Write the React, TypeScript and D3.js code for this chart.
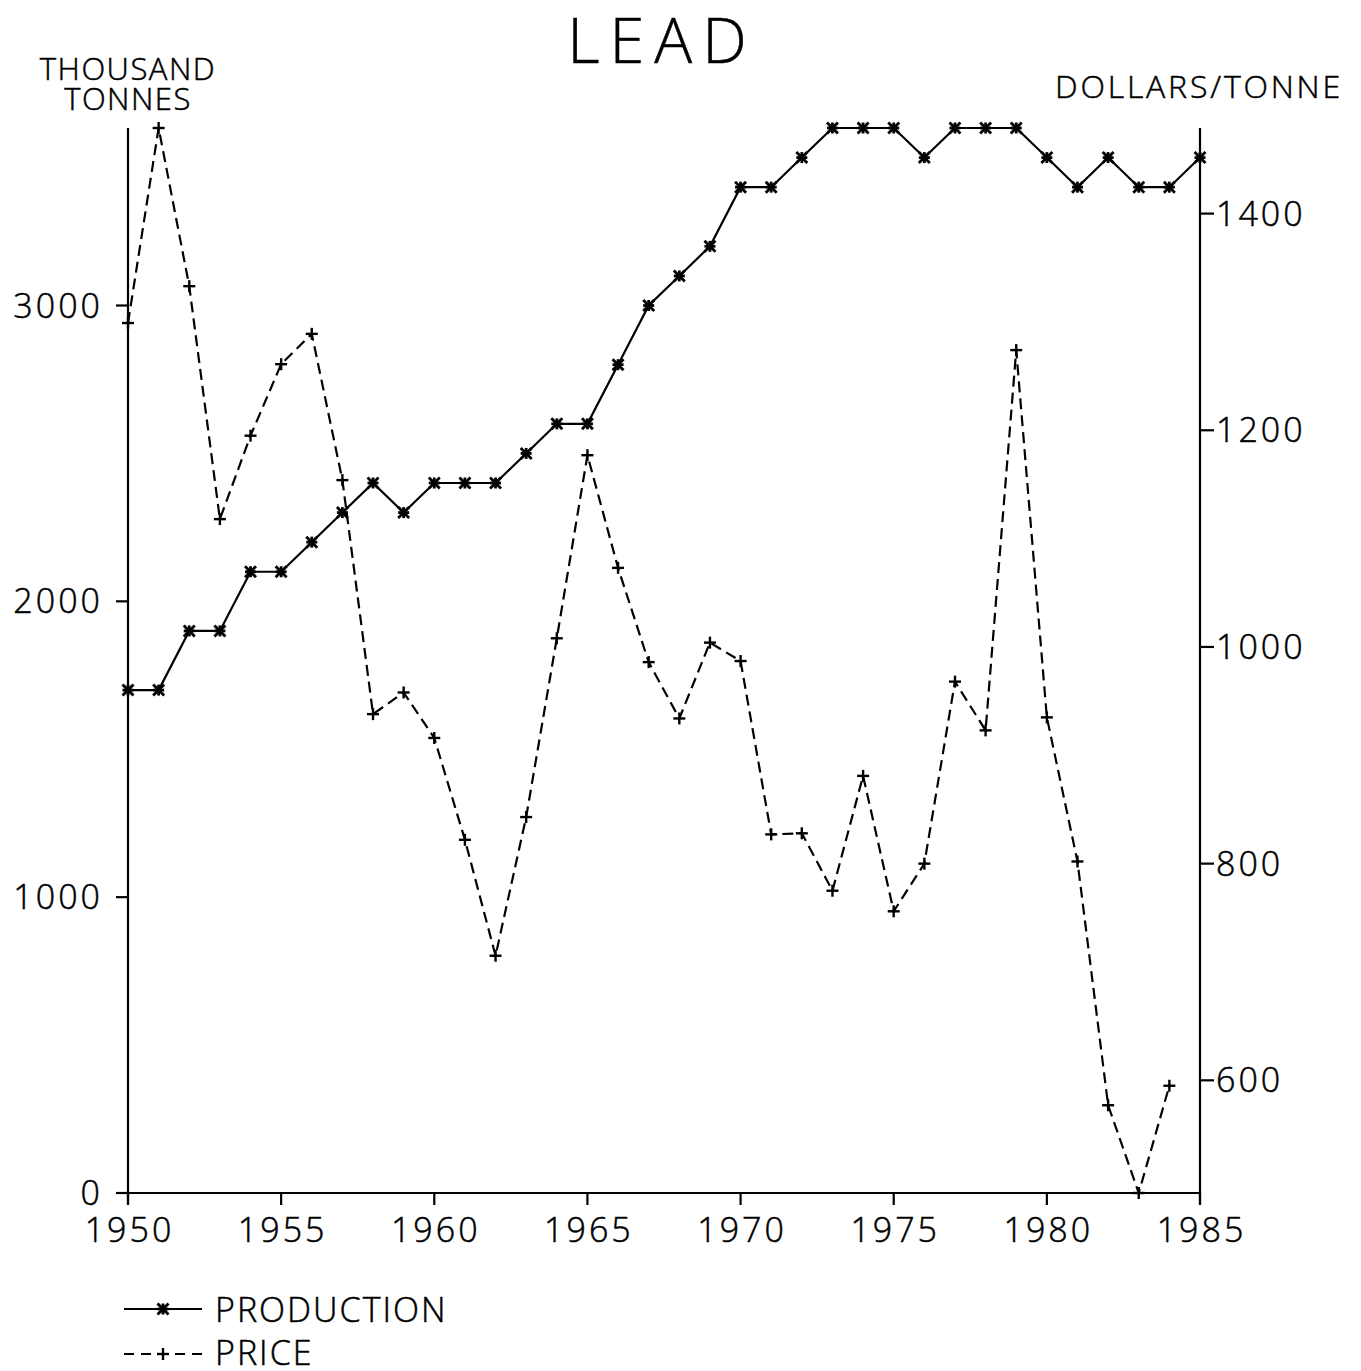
import * as d3 from 'd3';

// Years for each series
const productionYears = d3.range(1950, 1986);
const priceYears = d3.range(1950, 1985);

// Lead production, thousand tonnes
const production = [
  1700, 1700, 1900, 1900, 2100, 2100, 2200, 2300, 2400, 2300,
  2400, 2400, 2400, 2500, 2600, 2600, 2800, 3000, 3100, 3200,
  3400, 3400, 3500, 3600, 3600, 3600, 3500, 3600, 3600, 3600,
  3500, 3400, 3500, 3400, 3400, 3500,
];

// Lead price, dollars/tonne
const price = [
  1299, 1479, 1333, 1118, 1195, 1261, 1289, 1154, 938, 958,
  916, 822, 715, 843, 1008, 1177, 1073, 986, 934, 1004,
  987, 827, 828, 775, 881, 756, 800, 968, 923, 1274,
  935, 802, 577, 496, 595,
];

const xTicks = [1950, 1955, 1960, 1965, 1970, 1975, 1980, 1985];
const leftTicks = [0, 1000, 2000, 3000];
const rightTicks = [600, 800, 1000, 1200, 1400];

const W = 1361;
const H = 1371;
const left = 128;
const right = 1200;
const top = 128;
const bottom = 1193;
const font = "'Open Sans', 'DejaVu Sans', sans-serif";

const asterisk = (cx: number, cy: number, key: string) => {
  const s = 5.5;
  return (
    <g key={key} stroke="#000" strokeWidth={2.8}>
      <line x1={cx - s} y1={cy - s} x2={cx + s} y2={cy + s} />
      <line x1={cx - s} y1={cy + s} x2={cx + s} y2={cy - s} />
      <line x1={cx - s} y1={cy} x2={cx + s} y2={cy} />
      <line x1={cx} y1={cy - s} x2={cx} y2={cy + s} />
    </g>
  );
};

const plus = (cx: number, cy: number, key: string) => {
  const s = 6;
  return (
    <g key={key} stroke="#000" strokeWidth={2.4}>
      <line x1={cx - s} y1={cy} x2={cx + s} y2={cy} />
      <line x1={cx} y1={cy - s} x2={cx} y2={cy + s} />
    </g>
  );
};

export default function App() {
  const x = d3.scaleLinear().domain([1950, 1985]).range([left, right]);
  const yL = d3.scaleLinear().domain([0, 3600]).range([bottom, top]);
  const yR = d3
    .scaleLinear()
    .domain([d3.min(price) as number, d3.max(price) as number])
    .range([bottom, top]);

  const prodLine = d3
    .line<number>()
    .x((_, i) => x(productionYears[i]))
    .y((d) => yL(d));
  const priceLine = d3
    .line<number>()
    .x((_, i) => x(priceYears[i]))
    .y((d) => yR(d));

  return (
    <svg
      width={W}
      height={H}
      style={{ position: 'absolute', left: 0, top: 0, display: 'block' }}
      fontFamily={font}
      fontWeight={300}
    >
      <rect width={W} height={H} fill="#fff" />

      {/* title and axis units, thin stroke to mimic plotter pen */}
      <g stroke="#000" strokeWidth={0.5}>
        <text x={662} y={63} fontSize={63} textAnchor="middle" letterSpacing={10}>
          LEAD
        </text>
        <text x={128} y={80} fontSize={31} textAnchor="middle" letterSpacing={1.5}>
          THOUSAND
        </text>
        <text x={128} y={110} fontSize={31} textAnchor="middle" letterSpacing={1.5}>
          TONNES
        </text>
        <text x={1199} y={98} fontSize={32} textAnchor="middle" letterSpacing={2.8}>
          DOLLARS/TONNE
        </text>
      </g>

      {/* axes */}
      <g stroke="#000" strokeWidth={2.2}>
        <line x1={left} y1={top} x2={left} y2={bottom + 12} />
        <line x1={right} y1={top} x2={right} y2={bottom + 12} />
        <line x1={left} y1={bottom} x2={right} y2={bottom} />
        {xTicks.map((t) => (
          <line key={`xt${t}`} x1={x(t)} y1={bottom} x2={x(t)} y2={bottom + 12} />
        ))}
        {leftTicks.map((t) => (
          <line key={`lt${t}`} x1={left - 12} y1={yL(t)} x2={left} y2={yL(t)} />
        ))}
        {rightTicks.map((t) => (
          <line key={`rt${t}`} x1={right} y1={yR(t)} x2={right + 14} y2={yR(t)} />
        ))}
      </g>
      <g fontSize={34} letterSpacing={3} stroke="#000" strokeWidth={0.5}>
        {xTicks.map((t) => (
          <text key={`xl${t}`} x={x(t) + 1.5} y={1242} textAnchor="middle">
            {t}
          </text>
        ))}
        {leftTicks.map((t) => (
          <text key={`ll${t}`} x={103} y={yL(t) + 12} textAnchor="end">
            {t}
          </text>
        ))}
        {rightTicks.map((t) => (
          <text key={`rl${t}`} x={1216} y={yR(t) + 12} textAnchor="start">
            {t}
          </text>
        ))}
      </g>

      {/* series */}
      <path d={prodLine(production) ?? ''} fill="none" stroke="#000" strokeWidth={2.2} />
      <path
        d={priceLine(price) ?? ''}
        fill="none"
        stroke="#000"
        strokeWidth={2.2}
        strokeDasharray="11,6"
      />
      {production.map((v, i) => asterisk(x(productionYears[i]), yL(v), `p${i}`))}
      {price.map((v, i) => plus(x(priceYears[i]), yR(v), `c${i}`))}

      {/* legend */}
      <g fontSize={34} letterSpacing={2}>
        <line x1={124} y1={1309} x2={202} y2={1309} stroke="#000" strokeWidth={2} />
        {asterisk(163, 1309, 'lg1')}
        <text x={215} y={1322} stroke="#000" strokeWidth={0.5}>
          PRODUCTION
        </text>
        <line
          x1={124}
          y1={1354}
          x2={202}
          y2={1354}
          stroke="#000"
          strokeWidth={2}
          strokeDasharray="10,7"
        />
        {plus(163, 1354, 'lg2')}
        <text x={215} y={1365} stroke="#000" strokeWidth={0.5}>
          PRICE
        </text>
      </g>
    </svg>
  );
}
